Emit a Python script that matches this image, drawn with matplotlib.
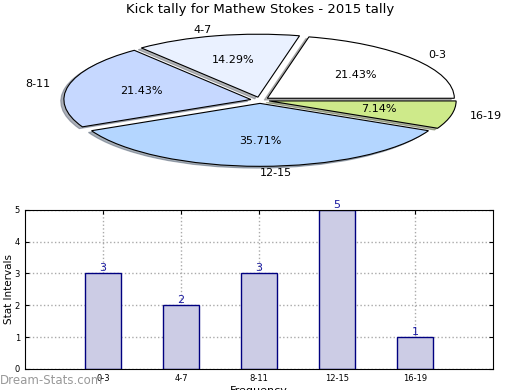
import matplotlib
matplotlib.use("Agg")
import matplotlib.pyplot as plt

# data
categories = ["0-3", "4-7", "8-11", "12-15", "16-19"]
counts = [3, 2, 3, 5, 1]
pie_colors = ["#FFFFFF", "#EAF1FF", "#C6D8FF", "#B4D6FF", "#CEEA8A"]
title = "Kick tally for Mathew Stokes - 2015 tally"

fig = plt.figure(figsize=(5.2, 3.9), dpi=100)

# ---- pie (squashed into an ellipse) ----
ax_pie = fig.add_axes([0.0, 0.538, 1.0, 0.41])
ax_pie.pie(counts, labels=categories, colors=pie_colors,
           explode=[0.05] * len(counts), startangle=0, counterclock=True,
           autopct="%.2f%%", shadow=dict(ox=-0.012, oy=-0.02, shade=0.55),
           wedgeprops=dict(edgecolor="black", linewidth=0.8),
           textprops=dict(fontsize=8))
ax_pie.set_aspect("auto")
ax_pie.set_xlim(-260 / 187, 260 / 187)
ax_pie.set_ylim(-80 / 63, 80 / 63)
ax_pie.axis("off")
fig.text(0.5, 0.975, title, ha="center", va="center", fontsize=9.5)

# ---- bar chart ----
ax = fig.add_axes([0.048, 0.054, 0.9, 0.408])
x = list(range(1, len(categories) + 1))
bars = ax.bar(x, counts, width=0.46, color="#CCCCE5", edgecolor="#000080",
              linewidth=1.0, zorder=2)
for xi, v in zip(x, counts):
    ax.text(xi, v, str(v), ha="center", va="bottom", fontsize=8,
            color="#1A1AA0", zorder=3)
ax.set_xlim(0, 6)
ax.set_ylim(0, 5)
ax.set_xticks(x)
ax.set_xticklabels(categories, fontsize=6)
ax.set_yticks(range(6))
ax.tick_params(axis="y", labelsize=6, direction="in", right=True, length=3)
ax.tick_params(axis="x", direction="in", top=True, length=3)
ax.grid(True, linestyle=":", color="#AAAAAA", linewidth=1.0, zorder=0)
ax.set_axisbelow(True)
ax.set_ylabel("Stat Intervals", fontsize=7.5)
ax.yaxis.set_label_coords(-0.024, 0.5)
ax.set_xlabel("Frequency", fontsize=8, labelpad=2)

fig.text(0.0, 0.024, "Dream-Stats.com", ha="left", va="center",
         fontsize=8.5, color="#999999")

fig.savefig("out.png", dpi=100)
